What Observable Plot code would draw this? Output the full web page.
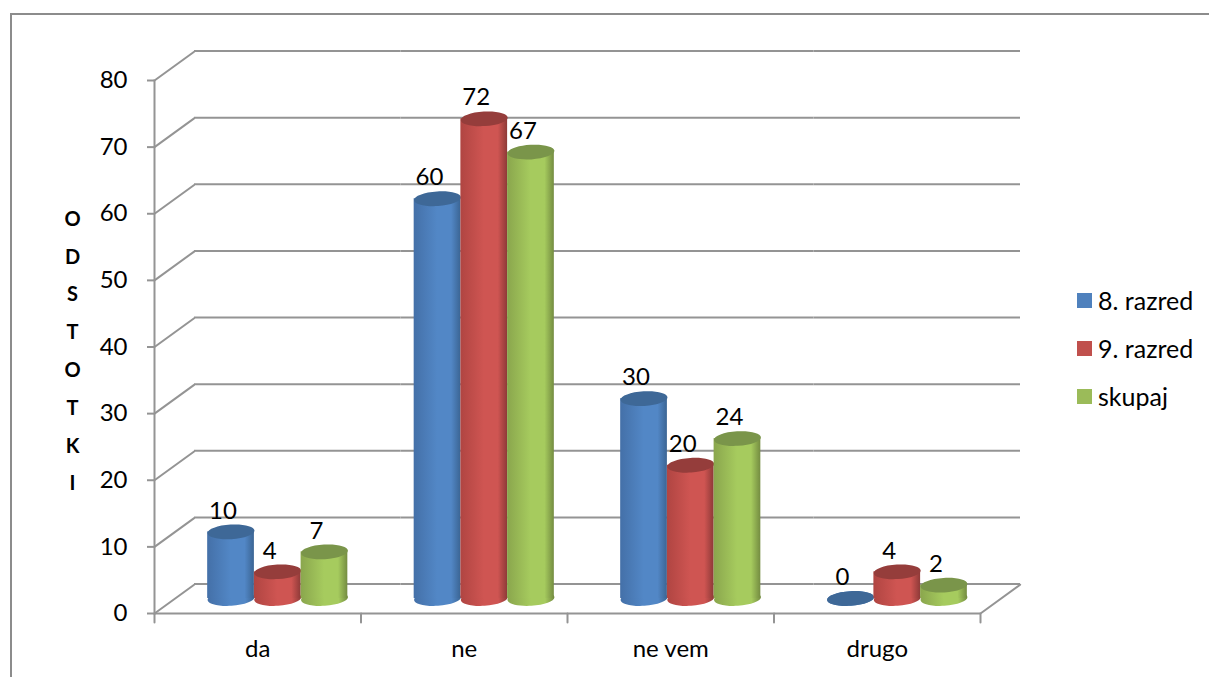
<!DOCTYPE html>
<html><head><meta charset="utf-8">
<script src="https://cdn.jsdelivr.net/npm/d3@7"></script>
<script src="https://cdn.jsdelivr.net/npm/@observablehq/plot@0.6"></script>
<style>
html,body{margin:0;padding:0;background:#fff;overflow:hidden}
#wrap{position:relative;width:1209px;height:677px;font-family:Lato,sans-serif;color:#000}
#frame{position:absolute;left:10px;top:13px;right:0;bottom:0;border-left:2px solid #8c8c8c;border-top:2px solid #8c8c8c}
#legend{position:absolute;left:1077px;top:276px;font-size:25px}
#legend div{height:48px;display:flex;align-items:center}
#legend i{width:15px;height:15px;margin-right:6px;display:block}
svg{position:relative;display:block}
</style></head><body>
<div id="wrap"><div id="frame"></div><div id="chart" style="position:absolute;left:0;top:0"></div><div id="legend"></div></div>
<script>
const categories = ["da","ne","ne vem","drugo"];
const seriesNames = ["8. razred","9. razred","skupaj"];
const grade8 = [10,60,30,0];
const grade9 = [4,72,20,4];
const total  = [7,67,24,2];
const yTicks = [0,10,20,30,40,50,60,70,80];
const axisTitle = "O\nD\nS\nT\nO\nT\nK\nI";
const legendColors = ["#4f81bd","#c0504d","#9bbb59"];
const gradientStops = [
  ["#4470a8","#5287c6","#3b6594"],
  ["#b04542","#cf5552","#8e3a38"],
  ["#8aa64d","#a6cb5e","#748c41"]
];
const topColors = ["#3e6897","#953d3b","#7a954a"];
const seriesValues = [grade8,grade9,total];
const rows = seriesNames.map((series,s)=>categories.map((category,c)=>({category,series,value:seriesValues[s][c]})));
const gridRows = categories.flatMap(category=>yTicks.map(value=>({category,value})));
const first = categories[0], last = categories[categories.length-1];

const grid = "#949494";
const depthDx = 40, depthDy = -29.5;
const barDx = 20, barDy = -15;
const barRx = 23.5;

const lineShape = {draw(ctx,l){ctx.moveTo(0,0);ctx.lineTo(0,-l);}};
function ellipse(ratio,tilt){
  return {draw(ctx,size){
    const rx=Math.sqrt(size/Math.PI), ry=rx*ratio, k=0.5523, c=Math.cos(tilt), s=Math.sin(tilt);
    const P=(x,y)=>[x*c-y*s,x*s+y*c];
    const seg=(a,b,d)=>{const p=P(...a),q=P(...b),r=P(...d);ctx.bezierCurveTo(p[0],p[1],q[0],q[1],r[0],r[1]);};
    const st=P(rx,0);ctx.moveTo(st[0],st[1]);
    seg([rx,k*ry],[k*rx,ry],[0,ry]);
    seg([-k*rx,ry],[-rx,k*ry],[-rx,0]);
    seg([-rx,-k*ry],[-k*rx,-ry],[0,-ry]);
    seg([k*rx,-ry],[rx,-k*ry],[rx,0]);
    ctx.closePath();
  }};
}
const cap = ellipse(0.31,-0.06);

function defs(){
  const ns="http://www.w3.org/2000/svg", d=document.createElementNS(ns,"defs");
  gradientStops.forEach((st,i)=>{
    const g=document.createElementNS(ns,"linearGradient");
    g.setAttribute("id","cyl"+i);
    [[0,st[0]],[.5,st[1]],[.8,st[1]],[1,st[2]]].forEach(([o,col])=>{
      const e=document.createElementNS(ns,"stop");e.setAttribute("offset",o);e.setAttribute("stop-color",col);g.append(e);
    });
    d.append(g);
  });
  return d;
}

const chart = Plot.plot({
  width:1209,height:677,
  marginLeft:154,marginRight:229,marginTop:80,marginBottom:64,
  style:{fontFamily:"Lato, sans-serif",fontSize:"25px",color:"#000",background:"transparent",overflow:"visible"},
  fx:{domain:categories,padding:0,round:false,label:null,axis:null},
  x:{domain:seriesNames,paddingInner:0,paddingOuter:0.71,round:false,axis:null,label:null},
  y:{domain:[0,80],label:null,axis:null},
  marks:[
    defs,
    Plot.ruleY(gridRows,{fx:"category",y:"value",dx:depthDx,dy:depthDy,stroke:grid,strokeWidth:2}),
    Plot.vector(gridRows.filter(d=>d.category===first),{fx:"category",y:"value",frameAnchor:"left",rotate:54,length:49,anchor:"start",shape:lineShape,stroke:grid,strokeWidth:2}),
    Plot.vector(gridRows.filter(d=>d.category===last&&d.value===0),{fx:"category",y:"value",frameAnchor:"right",rotate:54,length:49,anchor:"start",shape:lineShape,stroke:grid,strokeWidth:2}),
    Plot.frame({anchor:"left",fx:[first],stroke:grid,strokeWidth:2}),
    Plot.ruleY(gridRows.filter(d=>d.value===0),{fx:"category",y:"value",stroke:grid,strokeWidth:2}),
    Plot.axisY({ticks:yTicks,tickSize:7,tickPadding:20,stroke:grid,strokeWidth:2,fontSize:24,label:null,tickFormat:d=>d}),
    Plot.vector(categories,{fx:d=>d,frameAnchor:"bottom-left",rotate:180,length:9,anchor:"start",shape:lineShape,stroke:grid,strokeWidth:2}),
    Plot.vector([last],{fx:d=>d,frameAnchor:"bottom-right",rotate:180,length:9,anchor:"start",shape:lineShape,stroke:grid,strokeWidth:2}),
    Plot.axisFx({anchor:"bottom",tickSize:0,tickPadding:26,fontSize:24,label:null}),
    Plot.text([axisTitle],{text:d=>d,frameAnchor:"left",dx:-82,dy:-1,textAnchor:"middle",lineHeight:1.89,fontSize:20,fontWeight:700,facet:"super"}),
    ...rows.flatMap((data,i)=>[
      Plot.dot(data,{fx:"category",x:"series",y:()=>0,symbol:cap,r:barRx,fill:`url(#cyl${i})`,dx:barDx,dy:barDy}),
      Plot.barY(data,{fx:"category",x:"series",y:"value",fill:`url(#cyl${i})`,dx:barDx,dy:barDy}),
      Plot.dot(data,{fx:"category",x:"series",y:"value",symbol:cap,r:barRx,fill:topColors[i],dx:barDx,dy:barDy}),
      Plot.text(data,{fx:"category",x:"series",y:"value",text:d=>String(d.value),fontSize:24,dx:12,dy:-36})
    ])
  ]
});
document.getElementById("chart").append(chart);
const lg=document.getElementById("legend");
seriesNames.forEach((n,i)=>{const r=document.createElement("div");const sw=document.createElement("i");sw.style.background=legendColors[i];r.append(sw,document.createTextNode(n));lg.append(r);});
</script></body></html>
